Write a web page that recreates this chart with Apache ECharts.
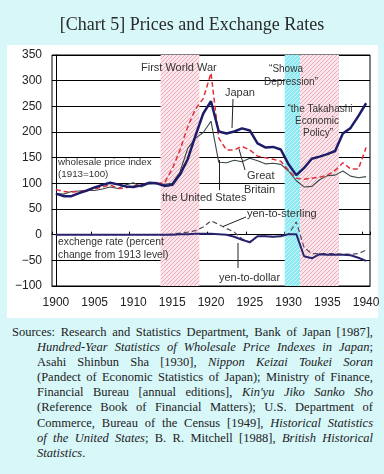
<!DOCTYPE html>
<html>
<head>
<meta charset="utf-8">
<script src="https://cdn.jsdelivr.net/npm/echarts@6/dist/echarts.min.js"></script>
<style>
  html, body { margin: 0; padding: 0; background: #d7f7f9; }
  #chart { position: absolute; left: 0; top: 0; width: 384px; height: 320px; }
  #src { position: absolute; left: 12px; top: 325px; width: 361px; font-family: "Liberation Serif", "Times New Roman", serif;
         font-size: 12.5px; line-height: 15.1px; color: #222; }
  #src div { text-align: justify; text-align-last: justify; white-space: nowrap; padding-left: 25px; }
  #src div.first { padding-left: 0; }
  #src div.last { text-align-last: left; }
</style>
</head>
<body>
<div id="chart"></div>
<div id="src">
<div class="first">Sources: Research and Statistics Department, Bank of Japan [1987],</div>
<div><i>Hundred-Year Statistics of Wholesale Price Indexes in Japan</i>;</div>
<div>Asahi Shinbun Sha [1930], <i>Nippon Keizai Toukei Soran</i></div>
<div>(Pandect of Economic Statistics of Japan); Ministry of Finance,</div>
<div>Financial Bureau [annual editions], <i>Kin'yu Jiko Sanko Sho</i></div>
<div>(Reference Book of Financial Matters); U.S. Department of</div>
<div>Commerce, Bureau of the Census [1949], <i>Historical Statistics</i></div>
<div><i>of the United States</i>; B. R. Mitchell [1988], <i>British Historical</i></div>
<div class="last"><i>Statistics</i>.</div>
</div>
<script>
const years = ['1900','1901','1902','1903','1904','1905','1906','1907','1908','1909',
  '1910','1911','1912','1913','1914','1915','1916','1917','1918','1919',
  '1920','1921','1922','1923','1924','1925','1926','1927','1928','1929',
  '1930','1931','1932','1933','1934','1935','1936','1937','1938','1939','1940'];

const japanWPI = [80,75,75,81,86,92,97,101,98,94,93,96,101,100,95,97,117,147,193,236,
  260,201,197,201,207,203,178,170,171,166,137,116,130,148,152,157,163,197,208,231,256];
const usWPI = [80,79,84,85,86,86,89,93,90,97,101,93,99,100,98,100,122,168,188,199,
  221,141,140,145,142,149,144,138,139,137,124,105,93,94,107,115,116,124,114,111,113];
const ukWPI = [88,84,83,84,86,89,93,97,90,91,95,97,101,100,101,128,165,210,245,265,
  315,188,165,165,172,165,153,150,147,143,125,110,108,110,112,116,125,140,128,128,170];
const yenToDollar = [0,0,0,0,0,0,0,0,0,0,0,0,0,0,0,0,1,1,2,2,
  2,1,0,-4,-10,-15,-3,-3,-4,-3,1,1,-42,-46,-38,-39,-39,-39,-40,-45,-51];
const yenToSterling = [0,0,0,0,0,0,0,0,0,0,0,0,0,0,0,1,3,5,8,15,
  27,20,12,5,-8,-14,-3,-3,-4,-3,1,25,-25,-37,-37,-37,-37,-38,-38,-37,-30];

// shaded periods (first and last year, inclusive)
const warPeriod = ['1914', '1918'];
const showaPeriod = ['1930', '1931'];
const takahashiPeriod = ['1932', '1936'];

const yTicks = { min: -100, max: 350, interval: 50 };

function hatch(bg, line, size, lw) {
  const c = document.createElement('canvas');
  c.width = size; c.height = size;
  const g = c.getContext('2d');
  g.fillStyle = bg; g.fillRect(0, 0, size, size);
  g.strokeStyle = line; g.lineWidth = lw;
  g.beginPath();
  g.moveTo(0, size); g.lineTo(size, 0);
  g.moveTo(-1, 1); g.lineTo(1, -1);
  g.moveTo(size - 1, size + 1); g.lineTo(size + 1, size - 1);
  g.stroke();
  return { image: c, repeat: 'repeat' };
}
const pinkHatch = hatch('#fbe7eb', '#eaaab8', 4, 1);
const cyanHatch = hatch('#8fe9f1', '#c8f6f9', 4, 1);

function idx(y) { return years.indexOf(y); }
function area(p, color) {
  return [{ xAxis: idx(p[0]) - 0.5, itemStyle: { color: color } }, { xAxis: idx(p[1]) + 0.5 }];
}

const chart = echarts.init(document.getElementById('chart'), null, { renderer: 'canvas' });
const FONT = 'Liberation Sans, Arial, sans-serif';
function txt(x, y, text, size, extra) {
  return { type: 'text', x: x, y: y, z: 100,
    style: Object.assign({ text: text, fontSize: size, fontFamily: FONT, fill: '#333',
      textVerticalAlign: 'middle' }, extra || {}) };
}
function ln(x1, y1, x2, y2) {
  return { type: 'line', z: 100, shape: { x1: x1, y1: y1, x2: x2, y2: y2 }, style: { stroke: '#222', lineWidth: 1 } };
}

chart.setOption({
  backgroundColor: '#d7f7f9',
  animation: false,
  title: {
    text: '[Chart 5] Prices and Exchange Rates', left: 'center', top: 11,
    textStyle: { fontFamily: 'Liberation Serif, Times New Roman, serif', fontWeight: 'normal', fontSize: 18, color: '#2a2a2a' }
  },
  grid: { left: 52, right: 14, top: 55, bottom: 34, show: true, borderColor: '#000', borderWidth: 1, backgroundColor: 'transparent' },
  xAxis: [
    { type: 'category', data: years, position: 'bottom', boundaryGap: true,
      axisLine: { onZero: false, lineStyle: { color: '#000' } }, axisTick: { show: false },
      axisLabel: { interval: 4, color: '#222', fontSize: 12, margin: 11, fontFamily: FONT },
      splitLine: { show: false } },
    { type: 'category', data: years, position: 'top', boundaryGap: true,
      axisLine: { onZero: true, lineStyle: { color: '#000', width: 1 } },
      axisTick: { show: true, interval: 4, length: 3, inside: false, lineStyle: { color: '#000' } },
      axisLabel: { show: false }, splitLine: { show: false } },
    { type: 'value', min: -0.5, max: years.length - 0.5, show: false, splitLine: { show: false } }
  ],
  yAxis: {
    type: 'value', min: yTicks.min, max: yTicks.max, interval: yTicks.interval,
    axisLine: { show: true, lineStyle: { color: '#000' } }, axisTick: { show: false },
    axisLabel: { color: '#222', fontSize: 12, margin: 10, fontFamily: FONT,
      formatter: v => String(v).replace('-', '\u2212') },
    splitLine: { show: true, lineStyle: { color: '#000', width: 1 } }
  },
  series: [
    { type: 'line', name: 'periods', xAxisIndex: 2, data: [], silent: true,
      markArea: { silent: true, z: 1, data: [ area(warPeriod, pinkHatch), area(showaPeriod, cyanHatch), area(takahashiPeriod, pinkHatch) ] } },
    { type: 'line', name: 'United States', data: usWPI, symbol: 'none', z: 3,
      lineStyle: { color: '#3b4848', width: 1.1 } },
    { type: 'line', name: 'Great Britain', data: ukWPI, symbol: 'none', z: 4,
      lineStyle: { color: '#e0303c', width: 1.5, type: [5, 3] } },
    { type: 'line', name: 'Japan', data: japanWPI, symbol: 'none', z: 5,
      lineStyle: { color: '#1c1c6a', width: 2.5 } },
    { type: 'line', name: 'yen-to-sterling', data: yenToSterling, symbol: 'none', z: 3,
      lineStyle: { color: '#5a4a5e', width: 1.2, type: [5, 3] } },
    { type: 'line', name: 'yen-to-dollar', data: yenToDollar, symbol: 'none', z: 4,
      lineStyle: { color: '#2a2470', width: 2 } }
  ],
  graphic: [
    { type: 'rect', z: -10, shape: { x: 7, y: 45, width: 371, height: 273 }, style: { fill: '#fff' } },
    txt(58, 162, 'wholesale price index', 9.8),
    txt(58, 174.5, '(1913=100)', 9.8),
    txt(58, 242, 'exchenge rate (percent', 10.3),
    txt(58, 255, 'change from 1913 level)', 10.3),
    txt(141, 67.5, 'First World War', 11),
    txt(225, 92.5, 'Japan', 11),
    txt(286, 69, '\u201cShowa', 10, { textAlign: 'center' }),
    txt(291, 82.5, 'Depression\u201d', 10, { textAlign: 'center' }),
    txt(320, 109, '\u201cthe Takahashi', 10, { textAlign: 'center' }),
    txt(317, 121, 'Economic', 10, { textAlign: 'center' }),
    txt(318, 133, 'Policy\u201d', 10, { textAlign: 'center' }),
    txt(247, 176, 'Great', 11),
    txt(244, 189.5, 'Britain', 11),
    txt(162, 197.5, 'the United States', 11),
    txt(247, 214, 'yen-to-sterling', 11),
    txt(219, 277.5, 'yen-to-dollar', 11),
    ln(233, 99, 232, 128),
    ln(245, 170, 239, 149),
    ln(219.5, 190, 219.5, 160),
    ln(246, 217, 223, 226.5),
    ln(238, 243, 238, 268)
  ]
});
</script>
</body>
</html>
